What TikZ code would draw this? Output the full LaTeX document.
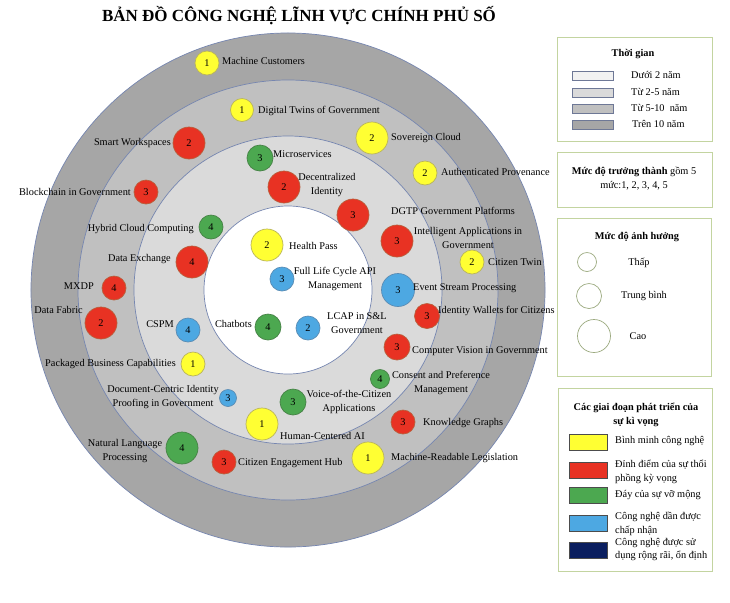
\documentclass[tikz,border=0pt]{standalone}
\usepackage{fontspec}
\setmainfont{Liberation Serif}
\newcommand\labfont{\fontsize{8.8}{11.9}\selectfont}
\definecolor{ringO}{RGB}{166,166,166}
\definecolor{ringM}{RGB}{192,192,192}
\definecolor{ringL}{RGB}{218,218,218}
\definecolor{ringE}{RGB}{118,134,176}
\definecolor{yel}{RGB}{255,255,51}
\definecolor{yelb}{RGB}{185,180,90}
\definecolor{redf}{RGB}{232,50,35}
\definecolor{redb}{RGB}{185,95,60}
\definecolor{grn}{RGB}{76,168,80}
\definecolor{grnb}{RGB}{70,130,70}
\definecolor{blu}{RGB}{77,168,226}
\definecolor{blub}{RGB}{90,140,180}
\definecolor{navy}{RGB}{10,30,95}
\definecolor{boxb}{RGB}{195,212,160}
\definecolor{swb}{RGB}{110,120,150}
\definecolor{s1}{RGB}{242,242,242}
\begin{document}
\begin{tikzpicture}[x=0.03cm,y=-0.03cm,
  lab/.style={font=\labfont, inner sep=0pt, text=black},
  clab/.style={lab, align=center},
  bub/.style={circle, draw, line width=0.6pt, inner sep=0pt, minimum size=#1*0.03cm, font=\labfont},
  Y/.style={fill=yel, draw=yelb},
  R/.style={fill=redf, draw=redb},
  G/.style={fill=grn, draw=grnb},
  B/.style={fill=blu, draw=blub},
  ring/.style={draw=ringE, line width=0.6pt},
  lbox/.style={draw=boxb, line width=0.8pt, fill=white},
  gsw/.style={draw=swb, line width=0.6pt},
  csw/.style={draw=black!70, line width=0.6pt},
  lcirc/.style={circle, draw=boxb!80!black, line width=0.6pt, fill=white, inner sep=0pt, minimum size=#1*0.03cm},
]
\useasboundingbox (0,0) rectangle (730,602);
\fill[white] (0,0) rectangle (730,602);

\node[font=\bfseries\fontsize{14.5}{17}\selectfont, inner sep=0pt] (title) at (299,16) {BẢN ĐỒ CÔNG NGHỆ LĨNH VỰC CHÍNH PHỦ SỐ};

% rings
\coordinate (ctr) at (288,290);
\draw[ring, fill=ringO] (ctr) circle[radius=7.71cm];
\draw[ring, fill=ringM] (ctr) circle[radius=6.30cm];
\draw[ring, fill=ringL] (ctr) circle[radius=4.62cm];
\draw[ring, fill=white] (ctr) circle[radius=2.52cm];

% bubbles and labels
\node[bub=24,Y] (mc) at (207,63) {1};
\node[lab,anchor=west] (mcL) at (222,61) {Machine Customers};
\node[bub=23,Y] (dt) at (242,110) {1};
\node[lab,anchor=west] (dtL) at (258,111) {Digital Twins of Government};
\node[bub=32,R] (sw) at (189,143) {2};
\node[lab,anchor=east] (swL) at (171,143) {Smart Workspaces};
\node[bub=24,R] (bg) at (146,192) {3};
\node[lab,anchor=east] (bgL) at (131,192) {Blockchain in Government};
\node[bub=24,G] (hc) at (211,227) {4};
\node[lab,anchor=east] (hcL) at (194,229) {Hybrid Cloud Computing};
\node[bub=26,G] (ms) at (260,158) {3};
\node[lab,anchor=west] (msL) at (273,154) {Microservices};
\node[bub=32,Y] (sc) at (372,138) {2};
\node[lab,anchor=west] (scL) at (391,138) {Sovereign Cloud};
\node[bub=24,Y] (ap) at (425,173) {2};
\node[lab,anchor=west] (apL) at (441,172) {Authenticated Provenance};
\node[bub=32,R] (di) at (284,187) {2};
\node[clab] (diL) at (327,185) {Decentralized\\Identity};
\node[bub=32,R] (dg) at (353,215) {3};
\node[lab,anchor=west] (dgL) at (391,211) {DGTP Government Platforms};
\node[bub=32,R] (ia) at (397,241) {3};
\node[clab] (iaL) at (468,238) {Intelligent Applications in\\Government};
\node[bub=32,Y] (hp) at (267,245) {2};
\node[lab,anchor=west] (hpL) at (289,246) {Health Pass};
\node[bub=24,B] (fl) at (282,279) {3};
\node[clab] (flL) at (335,279) {Full Life Cycle API\\Management};
\node[bub=33,B] (es) at (398,290) {3};
\node[lab,anchor=west] (esL) at (413,288) {Event Stream Processing};
\node[bub=24,Y] (ct) at (472,262) {2};
\node[lab,anchor=west] (ctL) at (488,262) {Citizen Twin};
\node[bub=25,R] (iw) at (427,316) {3};
\node[lab,anchor=west] (iwL) at (438,311) {Identity Wallets for Citizens};
\node[bub=24,B] (lc) at (308,328) {2};
\node[clab] (lcL) at (357,323) {LCAP in S\&L\\Government};
\node[bub=26,R] (cv) at (397,347) {3};
\node[lab,anchor=west] (cvL) at (412,351) {Computer Vision in Government};
\node[bub=19,G] (cp) at (380,379) {4};
\node[clab] (cpL) at (441,383) {Consent and Preference\\Management};
\node[bub=26,G] (vc) at (293,402) {3};
\node[clab] (vcL) at (349,402) {Voice-of-the-Citizen\\Applications};
\node[bub=26,G] (cb) at (268,327) {4};
\node[lab,anchor=east] (cbL) at (252,324) {Chatbots};
\node[bub=24,B] (cs) at (188,330) {4};
\node[lab,anchor=east] (csL) at (174,324) {CSPM};
\node[bub=32,R] (de) at (192,262) {4};
\node[lab,anchor=east] (deL) at (171,259) {Data Exchange};
\node[bub=24,R] (mx) at (114,288) {4};
\node[lab,anchor=east] (mxL) at (94,286) {MXDP};
\node[bub=32,R] (df) at (101,323) {2};
\node[lab,anchor=east] (dfL) at (83,310) {Data Fabric};
\node[bub=24,Y] (pb) at (193,364) {1};
\node[lab,anchor=east] (pbL) at (176,364) {Packaged Business Capabilities};
\node[bub=17,B] (dc) at (228,398) {3};
\node[clab] (dcL) at (163,397) {Document-Centric Identity\\Proofing in Government};
\node[bub=32,Y] (ha) at (262,424) {1};
\node[lab,anchor=west] (haL) at (280,436) {Human-Centered AI};
\node[bub=24,R] (kg) at (403,422) {3};
\node[lab,anchor=west] (kgL) at (423,423) {Knowledge Graphs};
\node[bub=32,G] (nl) at (182,448) {4};
\node[clab] (nlL) at (125,451) {Natural Language\\Processing};
\node[bub=24,R] (ce) at (224,462) {3};
\node[lab,anchor=west] (ceL) at (238,463) {Citizen Engagement Hub};
\node[bub=32,Y] (ml) at (368,458) {1};
\node[lab,anchor=west] (mlL) at (391,458) {Machine-Readable Legislation};

% legend 1
\draw[lbox] (557,37) rectangle (712,141);
\node[lab,font=\labfont\bfseries] (tg) at (633,54) {Thời gian};
\draw[gsw, fill=s1] (572,71) rectangle (613,80);
\draw[gsw, fill=ringL] (572,88) rectangle (613,97);
\draw[gsw, fill=ringM] (572,104) rectangle (613,113);
\draw[gsw, fill=ringO] (572,120) rectangle (613,129);
\node[lab,anchor=west] (t1) at (631,75) {Dưới 2 năm};
\node[lab,anchor=west] (t2) at (631,92) {Từ 2-5 năm};
\node[lab,anchor=west] (t3) at (631,108) {Từ 5-10\enspace năm};
\node[lab,anchor=west] (t4) at (632,124) {Trên 10 năm};

% legend 2
\draw[lbox] (557,152) rectangle (712,207);
\node[clab] (mat) at (634,179) {\textbf{Mức độ trưởng thành} gồm 5\\mức:1, 2, 3, 4, 5};

% legend 3
\draw[lbox] (557,218) rectangle (711,376);
\node[lab,font=\labfont\bfseries] (ah) at (637,237) {Mức độ ảnh hưởng};
\node[lcirc=19] (c1) at (587,262) {};
\node[lcirc=25] (c2) at (589,296) {};
\node[lcirc=33] (c3) at (594,336) {};
\node[lab] (c1L) at (639,263) {Thấp};
\node[lab] (c2L) at (644,296) {Trung bình};
\node[lab] (c3L) at (638,336) {Cao};

% legend 4
\draw[lbox] (558,388) rectangle (712,571);
\node[clab,font=\labfont\bfseries] (gd) at (636,415) {Các giai đoạn phát triển của\\sự kì vọng};
\draw[csw, fill=yel] (569,434) rectangle (607,450);
\draw[csw, fill=redf] (569,462) rectangle (607,478);
\draw[csw, fill=grn] (569,487) rectangle (607,503);
\draw[csw, fill=blu] (569,515) rectangle (607,531);
\draw[csw, fill=navy] (569,542) rectangle (607,558);
\node[lab,anchor=west] (g1) at (615,441) {Bình minh công nghệ};
\node[lab,anchor=west,align=left] (g2) at (615,471.5) {Đỉnh điểm của sự thổi\\phồng kỳ vọng};
\node[lab,anchor=west] (g3) at (615,495) {Đáy của sự vỡ mộng};
\node[lab,anchor=west,align=left] (g4) at (615,523.5) {Công nghệ dần được\\chấp nhận};
\node[lab,anchor=west,align=left] (g5) at (615,549.5) {Công nghệ được sử\\dụng rộng rãi, ổn định};
\end{tikzpicture}
\end{document}
